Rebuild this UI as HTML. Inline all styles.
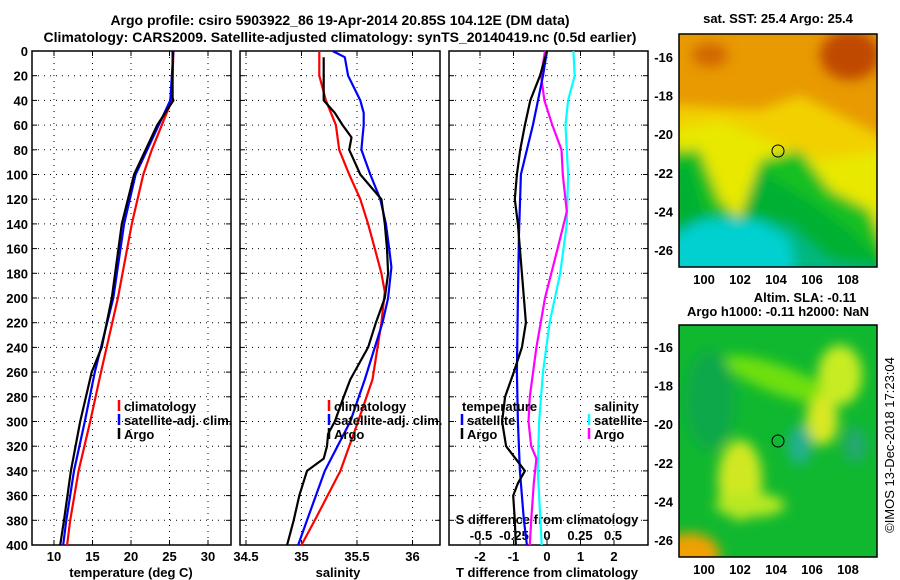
<!DOCTYPE html>
<html><head><meta charset="utf-8"><style>
body{margin:0;background:#fff;}
svg{display:block;font-family:"Liberation Sans",sans-serif;font-weight:bold;}
text{font-size:13px;fill:#000;}
</style></head><body>
<svg id="fig" width="900" height="580" viewBox="0 0 900 580">
<defs>
<filter id="blur1" x="-20%" y="-20%" width="140%" height="140%"><feGaussianBlur stdDeviation="6"/></filter>
<clipPath id="clipTop"><rect x="679" y="34" width="198" height="233"/></clipPath>
<clipPath id="clipBot"><rect x="679" y="325" width="198" height="232"/></clipPath>
</defs>
<text x="340" y="25" text-anchor="middle" font-size="14" style="font-size:14px">Argo profile: csiro 5903922_86 19-Apr-2014 20.85S 104.12E (DM data)</text>
<text x="340" y="42" text-anchor="middle" style="font-size:14px">Climatology: CARS2009. Satellite-adjusted climatology: synTS_20140419.nc (0.5d earlier)</text>
<g id="plots"></g>
<!-- top map -->
<g clip-path="url(#clipTop)">
<rect x="679" y="34" width="198" height="233" fill="#e89a00"/>
<g filter="url(#blur1)">
<polygon points="670,105 760,110 800,95 850,120 890,140 890,250 679,250" fill="#f2d000"/>
<polygon points="670,130 720,120 790,150 820,160 890,150 890,300 670,300" fill="#e8e800"/>
<polygon points="670,150 700,150 720,200 740,220 760,160 800,150 830,190 870,210 890,260 890,300 670,300" fill="#18c020"/>
<polygon points="670,170 690,160 705,210 730,240 760,170 810,200 850,230 890,270 890,300 670,300" fill="#00b030"/>
<polygon points="670,230 720,215 790,225 830,260 890,270 890,300 670,300" fill="#00b880"/>
<polygon points="670,240 700,220 760,220 790,240 800,300 670,300" fill="#00d0d0"/>
<ellipse cx="850" cy="55" rx="30" ry="25" fill="#c04800"/>
<ellipse cx="710" cy="55" rx="18" ry="12" fill="#d06800"/>
</g>
</g>
<rect x="679" y="34" width="198" height="233" fill="none" stroke="#000" stroke-width="1.5"/>
<circle cx="778" cy="151" r="6" fill="none" stroke="#000" stroke-width="1"/>
<text x="778" y="23" text-anchor="middle">sat. SST: 25.4 Argo: 25.4</text>
<!-- bottom map -->
<g clip-path="url(#clipBot)">
<rect x="679" y="325" width="198" height="232" fill="#10b830"/>
<g filter="url(#blur1)">
<ellipse cx="780" cy="380" rx="60" ry="14" fill="#70e010" transform="rotate(20 780 380)"/>
<ellipse cx="840" cy="375" rx="22" ry="30" fill="#c8ec20"/>
<ellipse cx="822" cy="420" rx="16" ry="25" fill="#d8e820"/>
<ellipse cx="740" cy="480" rx="22" ry="40" fill="#d0e820"/>
<ellipse cx="750" cy="505" rx="35" ry="12" fill="#b8e820"/>
<ellipse cx="690" cy="555" rx="30" ry="22" fill="#f0a000"/>
<ellipse cx="800" cy="445" rx="12" ry="20" fill="#20b090"/>
<ellipse cx="855" cy="445" rx="12" ry="18" fill="#20a870"/>
<ellipse cx="710" cy="400" rx="25" ry="50" fill="#10a848"/>
</g>
</g>
<rect x="679" y="325" width="198" height="232" fill="none" stroke="#000" stroke-width="1.5"/>
<circle cx="778" cy="441" r="6" fill="none" stroke="#000" stroke-width="1"/>
<text x="805" y="302" text-anchor="middle">Altim. SLA: -0.11</text>
<text x="778" y="316" text-anchor="middle">Argo h1000: -0.11 h2000: NaN</text>
<text transform="translate(894 445) rotate(-90)" text-anchor="middle" style="font-weight:normal;font-size:13px">©IMOS 13-Dec-2018 17:23:04</text>
</svg>
<script>
// ---- data ----
const depthsTClim = [0,40,60,80,100,140,200,260,300,340,380,400];
const tempClim    = [25.5,25.3,24.0,22.7,21.6,20.1,18.3,16.1,14.7,13.2,12.1,11.7];
const depthsTSat  = [0,40,60,80,100,140,200,260,300,340,380,400];
const tempSat     = [25.5,25.1,23.6,22.1,20.6,19.1,17.7,15.3,14.0,12.6,11.6,11.2];
const depthsTArgo = [0,38,40,60,80,100,140,200,240,260,300,340,380,400];
const tempArgo    = [25.4,25.4,25.5,23.4,21.9,20.4,18.8,17.5,16.2,14.9,13.4,12.2,11.3,10.8];

const depthsSClim = [0,20,40,60,80,100,120,140,160,180,195,220,266,300,340,380,400];
const salClim     = [35.16,35.16,35.22,35.31,35.34,35.43,35.53,35.60,35.66,35.72,35.75,35.72,35.64,35.51,35.35,35.12,35.0];
const depthsSSat  = [0,5,20,40,50,60,70,80,100,120,140,160,175,200,220,266,300,340,380,400];
const salSat      = [35.28,35.39,35.42,35.53,35.56,35.56,35.55,35.54,35.62,35.71,35.76,35.79,35.81,35.78,35.73,35.57,35.44,35.21,35.05,34.97];
const depthsSArgo = [5,35,40,50,60,70,80,90,100,120,140,160,180,200,220,240,266,280,300,310,320,330,340,360,380,400];
const salArgo     = [35.2,35.2,35.2,35.3,35.37,35.45,35.43,35.48,35.53,35.72,35.75,35.77,35.78,35.75,35.67,35.6,35.44,35.38,35.3,35.24,35.23,35.2,35.05,34.98,34.93,34.87];

const depthsDiffTSat  = [0,20,40,60,80,100,150,200,260,300,340,380,400];
const diffTSat        = [0,-0.12,-0.27,-0.42,-0.6,-0.78,-0.84,-0.87,-0.9,-0.87,-0.81,-0.69,-0.6];
const depthsDiffTArgo = [0,20,40,60,80,100,120,140,160,180,200,220,240,260,280,300,320,335,340,350,360,380,400];
const diffTArgo       = [0,-0.21,-0.5,-0.66,-0.8,-0.9,-0.96,-0.87,-0.81,-0.75,-0.69,-0.63,-0.75,-0.99,-1.25,-1.34,-1.22,-0.8,-0.66,-0.87,-1.01,-0.96,-0.93];
const depthsDiffSSat  = [0,20,40,60,100,140,180,220,260,300,340,380,400];
const diffSSat        = [0.2,0.21,0.16,0.14,0.16,0.15,0.1,0.02,-0.03,-0.06,-0.07,-0.05,-0.04];
const depthsDiffSArgo = [0,20,40,60,80,100,130,160,200,240,280,300,320,330,350,380,400];
const diffSArgo       = [-0.015,-0.045,-0.02,0.04,0.11,0.12,0.15,0.08,-0.015,-0.08,-0.13,-0.14,-0.12,-0.08,-0.1,-0.12,-0.13];

const depthTicks = [0,20,40,60,80,100,120,140,160,180,200,220,240,260,280,300,320,340,360,380,400];
const tempTicks = [10,15,20,25,30];
const salTicks = [34.5,35,35.5,36];
const tDiffTicks = [-2,-1,0,1,2];
const sDiffTicks = [-0.5,-0.25,0,0.25,0.5];
const sDiffTickLabels = ["-0.5","-0.25","0","0.25","0.5"];
const latTicks = [-16,-18,-20,-22,-24,-26];
const lonTicks = [100,102,104,106,108];

// ---- axes ----
const yTop=51, yBot=545;
const yD = d => yTop + d*(yBot-yTop)/400;
const xT = t => 54 + (t-10)*7.7;
const xS = s => 246 + (s-34.5)*111;
const xTd = v => 547 + v*33.5;
const xSd = v => 547 + v*132;
const NS="http://www.w3.org/2000/svg";
const G=document.getElementById('plots');
function mk(tag, attrs, parent){const e=document.createElementNS(NS,tag);for(const k in attrs)e.setAttribute(k,attrs[k]);(parent||G).appendChild(e);return e;}
function txt(x,y,s,anchor,parent){const e=mk('text',{x:x,y:y,'text-anchor':anchor||'start'},parent);e.textContent=s;return e;}

const panels=[{x0:32,x1:231},{x0:240,x1:440},{x0:449,x1:648}];
panels.forEach((p,i)=>{
  const box=mk('rect',{x:p.x0,y:yTop,width:p.x1-p.x0,height:yBot-yTop,fill:'none',stroke:'#000','stroke-width':1.5});
  
  
  depthTicks.forEach(d=>{
    const y=yD(d);
    if(d>0&&d<400){const g=mk('line',{x1:p.x0,x2:p.x1,y1:y,y2:y,stroke:'#000','stroke-dasharray':'1 5','stroke-width':1});
      
      }
    mk('line',{x1:p.x0,x2:p.x0+5,y1:y,y2:y,stroke:'#000'});
    mk('line',{x1:p.x1-5,x2:p.x1,y1:y,y2:y,stroke:'#000'});
  });
});
depthTicks.forEach(d=>{const t=txt(28,yD(d)+5,String(d),'end');
  
  });

function vgrid(ticks,fx,p,labels,ly){
  ticks.forEach((v,i)=>{const x=fx(v);
    if(x>p.x0+2&&x<p.x1-2){const g=mk('line',{x1:x,x2:x,y1:yTop,y2:yBot,stroke:'#000','stroke-dasharray':'1 5'});
      
      }
    mk('line',{x1:x,x2:x,y1:yBot-5,y2:yBot,stroke:'#000'});
    mk('line',{x1:x,x2:x,y1:yTop,y2:yTop+5,stroke:'#000'});
    if(labels){const t=txt(x,ly,labels[i],'middle');
      
      }
  });
}
vgrid(tempTicks,xT,panels[0],tempTicks.map(String),561);
vgrid(salTicks,xS,panels[1],salTicks.map(String),561);
vgrid(tDiffTicks,xTd,panels[2],tDiffTicks.map(String),561);
sDiffTicks.forEach((v,i)=>{const t=txt(xSd(v),540,sDiffTickLabels[i],'middle');
  
  });

let a;
a=txt(131,577,'temperature (deg C)','middle');


a=txt(338,577,'salinity','middle');


a=txt(547,577,'T difference from climatology','middle');


a=txt(547,524,'S difference from climatology','middle');



function line(vals,depths,fx,color,name,w){
  const pts=vals.map((v,i)=>fx(v).toFixed(1)+','+yD(depths[i]).toFixed(1)).join(' ');
  const l=mk('polyline',{points:pts,fill:'none',stroke:color,'stroke-width':w||2.2,'stroke-linejoin':'round'});
  
  
}
line(tempClim,depthsTClim,xT,'#f00','temp-climatology-line');
line(tempSat,depthsTSat,xT,'#00f','temp-satellite-line');
line(tempArgo,depthsTArgo,xT,'#000','temp-argo-line');
line(salClim,depthsSClim,xS,'#f00','sal-climatology-line');
line(salSat,depthsSSat,xS,'#00f','sal-satellite-line');
line(salArgo,depthsSArgo,xS,'#000','sal-argo-line');
line(diffSSat,depthsDiffSSat,xSd,'#0ff','s-diff-satellite-line');
line(diffSArgo,depthsDiffSArgo,xSd,'#f0f','s-diff-argo-line');
line(diffTSat,depthsDiffTSat,xTd,'#00f','t-diff-satellite-line');
line(diffTArgo,depthsDiffTArgo,xTd,'#000','t-diff-argo-line');

function legend(x,y,color,label){
  const m=mk('line',{x1:x,x2:x,y1:y-11,y2:y,stroke:color,'stroke-width':2.5});
  
  
  const t=txt(x+5,y,label,'start');
  
  
}
[['#f00','climatology'],['#00f','satellite-adj. clim.'],['#000','Argo']].forEach((e,i)=>{
  legend(119,411+i*14,e[0],e[1]);
  legend(329,411+i*14,e[0],e[1]);
});
a=txt(462,411,'temperature','start');


a=txt(594,411,'salinity','start');


legend(462,425,'#00f','satellite');
legend(462,439,'#000','Argo');
legend(589,425,'#0ff','satellite');
legend(589,439,'#f0f','Argo');

// map axes
const xLon = lon => 704 + (lon-100)*18;
function mapAxes(y0,y1,latY){
  latTicks.forEach(l=>{const y=latY(l);
    mk('line',{x1:679,x2:684,y1:y,y2:y,stroke:'#000'});
    mk('line',{x1:872,x2:877,y1:y,y2:y,stroke:'#000'});
    const t=txt(673,y+5,String(l),'end');
    
    });
  lonTicks.forEach(l=>{const x=xLon(l);
    mk('line',{x1:x,x2:x,y1:y1-5,y2:y1,stroke:'#000'});
    mk('line',{x1:x,x2:x,y1:y0,y2:y0+5,stroke:'#000'});
    const t=txt(x,y1+17,String(l),'middle');
    
    });
}
mapAxes(34,267,l=>57+(-16-l)*19.3);
mapAxes(325,557,l=>347+(-16-l)*19.3);
</script>
</body></html>
